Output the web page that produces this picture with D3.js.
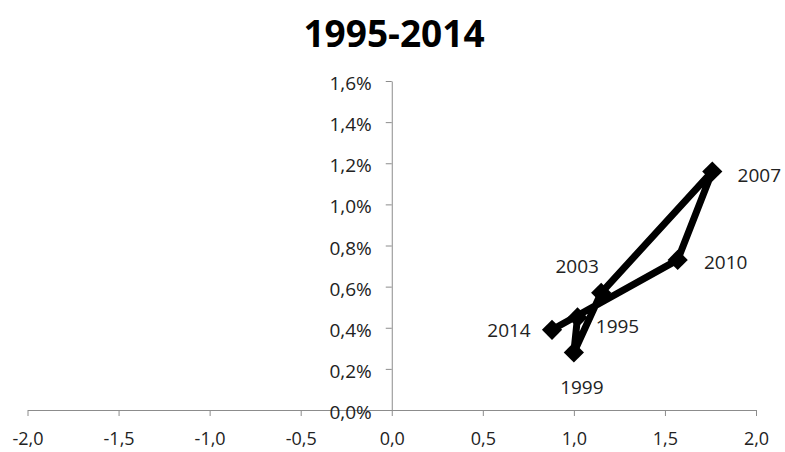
<!DOCTYPE html>
<html>
<head>
<meta charset="utf-8">
<script src="https://cdn.jsdelivr.net/npm/d3@7"></script>
<style>
  body { margin: 0; background: #fff; }
  svg { display: block; font-family: "Open Sans", "DejaVu Sans", sans-serif; }
</style>
</head>
<body>
<svg id="chart" width="785" height="452"></svg>
<script>
// data
var years = ["1995", "1999", "2003", "2007", "2010", "2014"];
var xValues = [1.02, 1.00, 1.15, 1.76, 1.57, 0.88];
var yValues = [0.45, 0.28, 0.57, 1.16, 0.73, 0.39];
var xTicks = [-2, -1.5, -1, -0.5, 0, 0.5, 1, 1.5, 2];
var yTicks = [0, 0.2, 0.4, 0.6, 0.8, 1.0, 1.2, 1.4, 1.6];

// label centre offsets from each point (dx, dy)
var labelPos = {
  "1995": [40, 9],
  "1999": [8, 35],
  "2003": [-24, -27],
  "2007": [47, 4],
  "2010": [48, 2],
  "2014": [-43, 0]
};

var svg = d3.select("#chart");

var x = d3.scaleLinear().domain([-2, 2]).range([27.5, 756]);
var y = d3.scaleLinear().domain([0, 1.6]).range([410, 81]);

// decimal comma and plain hyphen like the original
var comma = function(v) {
  return d3.format(".1f")(v).replace(".", ",").replace("\u2212", "-");
};
var axisColor = "#8c8c8c";

// title
svg.append("text")
    .attr("x", 394)
    .attr("y", 47)
    .attr("text-anchor", "middle")
    .style("font-size", "37px")
    .style("font-weight", "bold")
    .style("fill", "#000")
    .text("1995-2014");

// x axis
var xAxis = svg.append("g")
    .attr("transform", "translate(0," + y(0) + ")")
    .call(d3.axisBottom(x).tickValues(xTicks).tickFormat(comma).tickSizeInner(6).tickSizeOuter(0));

xAxis.select(".domain").attr("stroke", axisColor);
xAxis.selectAll(".tick line").attr("stroke", axisColor);
xAxis.selectAll(".tick text")
    .attr("y", 29)
    .attr("dy", "0.35em")
    .style("font-size", "18px")
    .style("font-family", "'Open Sans', sans-serif")
    .attr("fill", "#222");

// y axis
var yAxis = svg.append("g")
    .attr("transform", "translate(" + x(0) + ",0)")
    .call(d3.axisLeft(y).tickValues(yTicks)
      .tickFormat(function(v) { return comma(v) + "%"; })
      .tickSizeInner(6).tickSizeOuter(0));

yAxis.select(".domain").attr("stroke", axisColor);
yAxis.selectAll(".tick line").attr("stroke", axisColor);
yAxis.selectAll(".tick text")
    .attr("x", -20)
    .attr("dy", "0.45em")
    .style("font-size", "19px")
    .style("font-family", "'Open Sans', sans-serif")
    .attr("fill", "#222");

// data line
var points = years.map(function(yr, i) {
  return { year: yr, x: xValues[i], y: yValues[i] };
});

var line = d3.line()
    .x(function(d) { return x(d.x); })
    .y(function(d) { return y(d.y); });

svg.append("path")
    .datum(points)
    .attr("d", line)
    .attr("fill", "none")
    .attr("stroke", "#000")
    .attr("stroke-width", 7)
    .attr("stroke-linejoin", "round");

// diamond markers
svg.selectAll("path.marker")
    .data(points)
    .enter().append("path")
    .attr("class", "marker")
    .attr("d", d3.symbol().type(d3.symbolDiamond2).size(260))
    .attr("transform", function(d) { return "translate(" + x(d.x) + "," + y(d.y) + ")"; })
    .attr("fill", "#000");

// year labels
svg.selectAll("text.lbl")
    .data(points)
    .enter().append("text")
    .attr("class", "lbl")
    .attr("x", function(d) { return x(d.x) + labelPos[d.year][0]; })
    .attr("y", function(d) { return y(d.y) + labelPos[d.year][1]; })
    .attr("dy", "0.36em")
    .attr("text-anchor", "middle")
    .style("font-size", "19px")
    .style("fill", "#222")
    .text(function(d) { return d.year; });
</script>
</body>
</html>
